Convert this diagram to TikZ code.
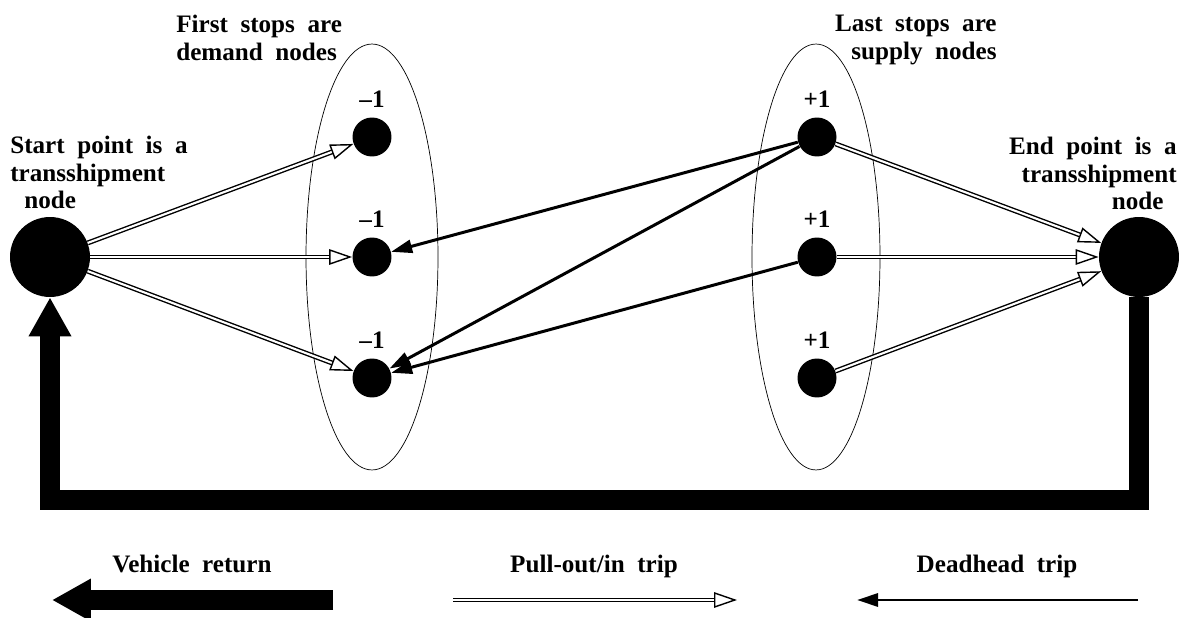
\documentclass[tikz,border=0pt]{standalone}
\usepackage{fontspec}
\setmainfont{Liberation Serif}[WordSpace=2]
\usetikzlibrary{arrows.meta}

\begin{document}
\begin{tikzpicture}[x=0.02cm, y=-0.02cm,
    every node/.style={font=\fontsize{14.3}{15.6}\selectfont\bfseries, inner sep=0pt},
    bignode/.style={circle, fill=black, minimum size=1.6cm},
    stopnode/.style={circle, fill=black, minimum size=0.78cm},
    pullout/.style={double=white, double distance=1.2pt, line width=0.8pt,
        -{Triangle[open, length=0.46cm, width=0.31cm]}},
    deadhead/.style={line width=1.7pt, -{Triangle[length=0.42cm, width=0.26cm]}},
    vreturn/.style={line width=0.4cm, line join=miter,
        -{Triangle[length=0.78cm, width=0.8cm]}},
    label distance=0.19cm]

    \useasboundingbox (0,0) rectangle (1188,618);

    % ================= stops =================
    \draw[thin] (372,257) ellipse [x radius=1.32cm, y radius=4.26cm];
    \draw[thin] (816,257) ellipse [x radius=1.28cm, y radius=4.26cm];

    \node[bignode] (startpt) at (50,257) {};
    \node[bignode] (endpt) at (1139,257) {};
    \foreach \i/\y in {1/137, 2/257, 3/378} {
        \node[stopnode, label=above:–1] (dem\i) at (372,\y) {};
        \node[stopnode, label=above:+1] (sup\i) at (817,\y) {};
    }

    \node[anchor=north west, align=left] (firstlbl) at (176,15) {First stops are\\demand nodes};
    \node[anchor=north east, align=right] (lastlbl) at (997,15) {Last stops are\\supply nodes};
    \node[anchor=north west, align=left] (startlbl) at (10,136)
        {Start point is a\\transshipment\\\hspace*{0.56em}node};
    \node[anchor=north east, align=right] (endlbl) at (1177,137)
        {End point is a\\transshipment\\node\hspace*{0.52em}};

    % ================= trips =================
    \foreach \i in {1,2,3} {
        \draw[pullout] (startpt) -- (dem\i);
        \draw[pullout] (sup\i) -- (endpt);
    }
    \draw[deadhead] (sup1) -- (dem2);
    \draw[deadhead] (sup1) -- (dem3);
    \draw[deadhead] (sup2) -- (dem3);

    % vehicle return
    \draw[vreturn] (endpt.south) -- (1139,500) -- (50,500) -- (startpt.south);

    % ================= legend =================
    \node[anchor=base] (retlbl) at (192,573) {Vehicle return};
    \node[anchor=base] (pulllbl) at (594,573) {Pull-out/in trip};
    \node[anchor=base] (deadlbl) at (997,573) {Deadhead trip};

    \coordinate (reta) at (333,600);
    \coordinate (retb) at (52,600);
    \coordinate (pulla) at (453,600);
    \coordinate (pullb) at (737,600);
    \coordinate (deada) at (1138,600);
    \coordinate (deadb) at (857,600);
    \draw[vreturn] (reta) -- (retb);
    \draw[pullout] (pulla) -- (pullb);
    \draw[deadhead] (deada) -- (deadb);

\end{tikzpicture}
\end{document}
